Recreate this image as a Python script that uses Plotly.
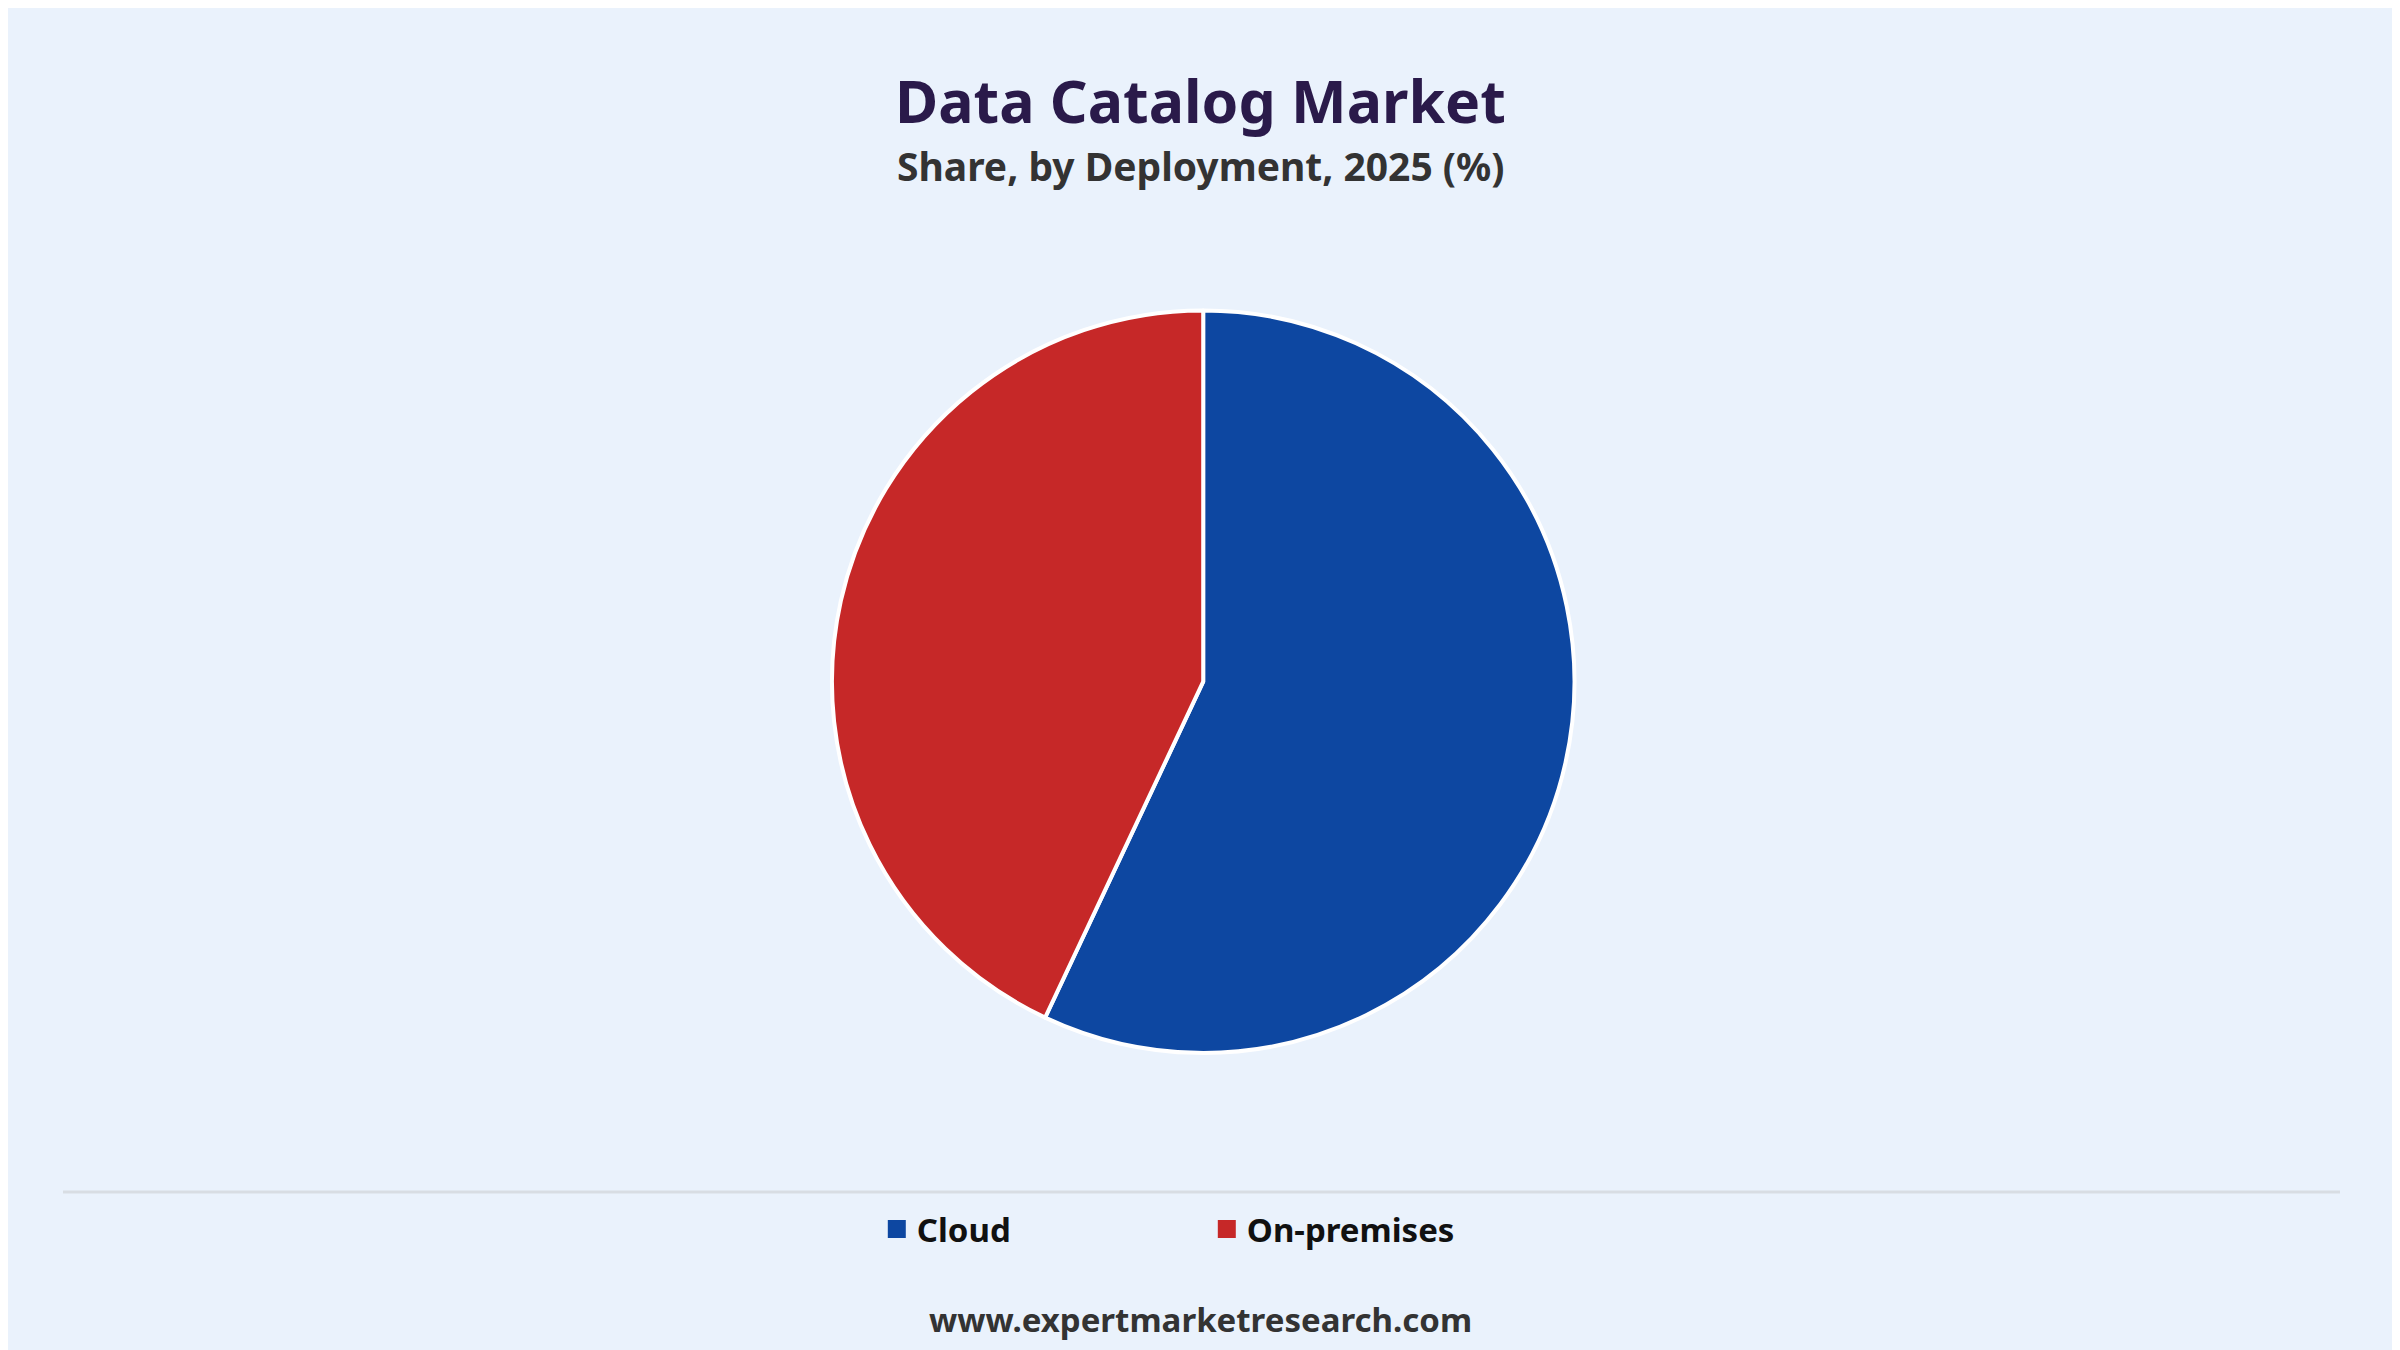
import plotly.graph_objects as go

labels = ["Cloud", "On-premises"]
values = [57, 43]
colors = ["#0D47A1", "#C62828"]

W, H = 2400, 1350
dy = 8  # compensate page margin
fig = go.Figure(go.Pie(
    labels=labels, values=values, sort=False, direction="clockwise", rotation=0,
    marker=dict(colors=colors, line=dict(color="white", width=4)),
    textinfo="none", hoverinfo="label+percent", showlegend=False,
    domain=dict(x=[0.343, 0.653], y=[0.226, 0.776]),
))
for lab, col in zip(labels, colors):
    fig.add_trace(go.Scatter(x=[None], y=[None], mode="markers", name=lab,
                             marker=dict(symbol="square", size=34, color=col,
                                         line=dict(color=col, width=2))))
fig.update_layout(
    width=W, height=H, margin=dict(l=0, r=0, t=0, b=0),
    paper_bgcolor="#EAF2FC", plot_bgcolor="rgba(0,0,0,0)",
    xaxis=dict(visible=False), yaxis=dict(visible=False),
    font=dict(family="Noto Sans", color="#111"),
    showlegend=True,
    legend=dict(orientation="h", x=0.362, xanchor="left", y=1 - (1229 - dy) / H, yanchor="middle",
                font=dict(size=33, family="Noto Sans", color="#111", weight="bold"),
                entrywidth=285, itemsizing="trace", bgcolor="rgba(0,0,0,0)"),
    shapes=[dict(type="line", xref="paper", yref="paper", x0=55 / W, x1=2332 / W,
                 y0=1 - (1192 - dy) / H, y1=1 - (1192 - dy) / H, line=dict(color="#D8DDE3", width=3))],
    annotations=[
        dict(text="<b>Data Catalog Market</b>", x=0.4967, y=1 - (100 - dy) / H, xref="paper", yref="paper",
             yanchor="middle", showarrow=False, font=dict(size=59, color="#2A1A4A", family="Noto Sans")),
        dict(text="<b>Share, by Deployment, 2025 (%)</b>", x=0.4967, y=1 - (165 - dy) / H, xref="paper", yref="paper",
             yanchor="middle", showarrow=False, font=dict(size=39, color="#333", family="Noto Sans")),
        dict(text="<b>www.expertmarketresearch.com</b>", x=0.4967, y=1 - (1319 - dy) / H, xref="paper", yref="paper",
             yanchor="middle", showarrow=False, font=dict(size=33, color="#333", family="Noto Sans")),
    ],
)
fig.write_html("out.html")
